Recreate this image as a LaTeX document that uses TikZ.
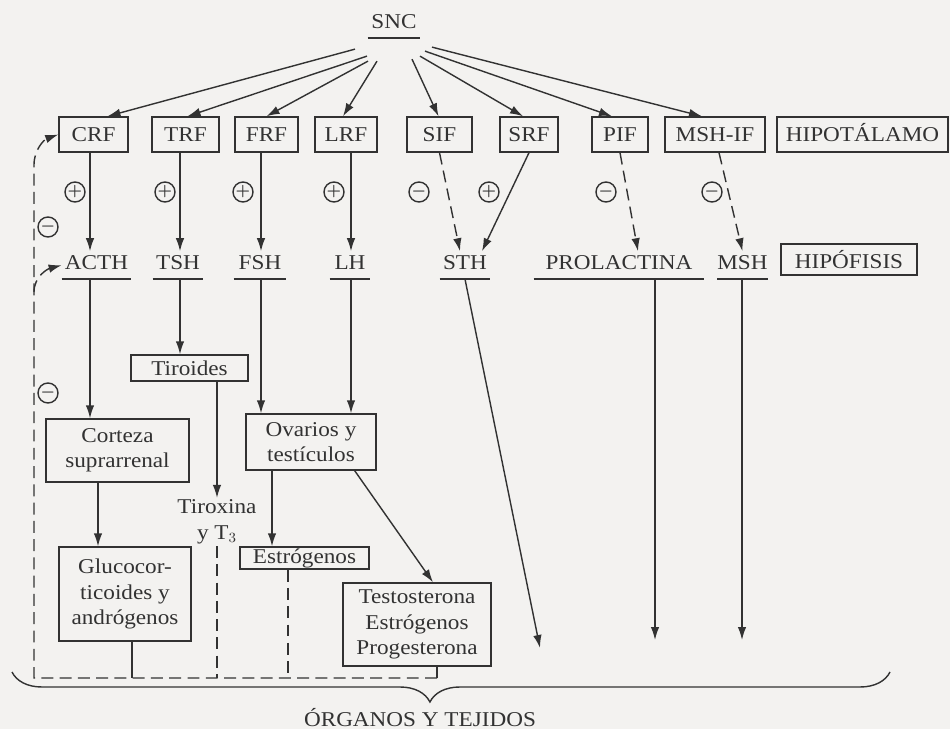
\documentclass[tikz,border=0pt]{standalone}
\usepackage{fontspec}
\setmainfont{Liberation Serif}[FakeStretch=1.1]
\usepackage{xcolor}
\usetikzlibrary{arrows.meta,positioning,calc,decorations.pathreplacing}
\definecolor{papel}{RGB}{243,242,240}
\definecolor{tinta}{RGB}{50,50,50}

\begin{document}
\begin{tikzpicture}[
    x=0.02cm, y=-0.02cm,
    font=\fontsize{12}{14.5}\selectfont,
    every node/.style={text=tinta},
    >={Latex[length=0.26cm,width=0.17cm]},
    caja/.style={rectangle, draw=tinta, line width=0.8pt, inner sep=2pt, align=center},
    factor/.style={caja, minimum height=0.70cm, text height=8.5pt, text depth=0pt},
    hormona/.style={minimum width=#1, inner xsep=0pt, inner ysep=2pt, text height=8.5pt, text depth=3pt, anchor=base},
    signo/.style={circle, draw=tinta, line width=0.8pt, minimum size=0.40cm, inner sep=0pt, font=\small\boldmath},
    linea/.style={draw=tinta, line width=0.8pt},
    flecha/.style={linea, ->},
    retro/.style={linea, dash pattern=on 6.8pt off 3.6pt}
]
\fill[papel] (0,0) rectangle (950,729);
\useasboundingbox (0,0) rectangle (950,729);

\node[hormona=1.04cm] (snc) at (394,29) {SNC};

\node[factor, minimum width=1.38cm] (crf) at (93.5,134.5) {CRF};
\node[factor, minimum width=1.34cm] (trf) at (185.5,134.5) {TRF};
\node[factor, minimum width=1.26cm] (frf) at (266.5,134.5) {FRF};
\node[factor, minimum width=1.24cm] (lrf) at (346,134.5) {LRF};
\node[factor, minimum width=1.30cm] (sif) at (439.5,134.5) {SIF};
\node[factor, minimum width=1.16cm] (srf) at (529,134.5) {SRF};
\node[factor, minimum width=1.12cm] (pif) at (620,134.5) {PIF};
\node[factor, minimum width=2.00cm] (mshif) at (715,134.5) {MSH-IF};
\node[factor, minimum width=3.42cm] (hipot) at (862.5,134.5) {HIPOTÁLAMO};

\node[hormona=1.38cm] (acth) at (96.5,270) {ACTH};
\node[hormona=1.00cm] (tsh) at (178,270) {TSH};
\node[hormona=1.04cm] (fsh) at (260,270) {FSH};
\node[hormona=0.80cm] (lh) at (350,270) {LH};
\node[hormona=1.00cm] (sth) at (465,270) {STH};
\node[hormona=3.40cm] (prol) at (619,270) {PROLACTINA};
\node[hormona=0.90cm] (msh) at (742.5,270) {MSH};
\node[caja, minimum width=2.72cm, minimum height=0.62cm] (hipof) at (849,259.5) {HIPÓFISIS};

\node[signo] (mas1) at (75,192) {$+$};
\node[signo] (mas2) at (165,192) {$+$};
\node[signo] (mas3) at (243,192) {$+$};
\node[signo] (mas4) at (334,192) {$+$};
\node[signo] (menos1) at (419,192) {$-$};
\node[signo] (mas5) at (489,192) {$+$};
\node[signo] (menos2) at (606,192) {$-$};
\node[signo] (menos3) at (712,192) {$-$};
\node[signo] (menos4) at (48,227) {$-$};
\node[signo] (menos5) at (48,393) {$-$};

\node[caja, minimum width=2.34cm, minimum height=0.52cm] (tiroides) at (189.5,368) {Tiroides};
\node[caja, minimum width=2.86cm, minimum height=1.26cm] (corteza) at (117.5,450.5) {Corteza\\suprarrenal};
\node[caja, minimum width=2.64cm, minimum height=1.88cm] (gluco) at (125,594) {Glucocor-\\ticoides y\\andrógenos};
\node[caja, minimum width=2.60cm, minimum height=1.12cm] (ovarios) at (311,442) {Ovarios y\\testículos};
\node[caja, minimum width=2.58cm, minimum height=0.44cm, inner sep=0pt] (estrog) at (304.5,558) {Estrógenos};
\node[caja, minimum width=2.96cm, minimum height=1.66cm] (testost) at (417,624.5) {Testosterona\\Estrógenos\\Progesterona};
\node[align=center, inner sep=1pt] (tirox) at (217,522) {Tiroxina\\y T$_3$};

\node (organos) at (420,718) {ÓRGANOS Y TEJIDOS};

\coordinate (fbl) at (34,678);
\coordinate (fbr) at (437,678);
\coordinate (fbcrf) at (34,165);
\coordinate (fbacth) at (34,292);
\coordinate (sthend) at (540,648);
\coordinate (prolend) at (655,640);
\coordinate (mshend) at (742,640);
\coordinate (llavei) at (12,672);
\coordinate (llaved) at (890,672);

\draw[linea] (snc.south west) -- (snc.south east);
\foreach \h in {acth,tsh,fsh,lh,sth,prol,msh}
    \draw[linea] (\h.south west) -- (\h.south east);

\draw[flecha] ($(snc.south)+(-39,11)$) -- ($(crf.north)+(14,0)$);
\draw[flecha] ($(snc.south)+(-27,18)$) -- ($(trf.north)+(2,0)$);
\draw[flecha] ($(snc.south)+(-26,23)$) -- (frf.north);
\draw[flecha] ($(snc.south)+(-17,23)$) -- ($(lrf.north)+(-3,0)$);
\draw[flecha] ($(snc.south)+(18,21)$) -- ($(sif.north)+(-1,0)$);
\draw[flecha] ($(snc.south)+(26,18)$) -- ($(srf.north)+(-6,0)$);
\draw[flecha] ($(snc.south)+(31,13)$) -- ($(pif.north)+(-8,0)$);
\draw[flecha] ($(snc.south)+(38,9)$) -- ($(mshif.north)+(-13,0)$);

\draw[flecha] ([xshift=-0.07cm]crf.south) -- ([xshift=-0.07cm]crf.south |- acth.north);
\draw[flecha] ([xshift=-0.11cm]trf.south) -- ([xshift=-0.11cm]trf.south |- tsh.north);
\draw[flecha] ([xshift=-0.11cm]frf.south) -- ([xshift=-0.11cm]frf.south |- fsh.north);
\draw[flecha] ([xshift=0.10cm]lrf.south) -- ([xshift=0.10cm]lrf.south |- lh.north);
\draw[retro, ->] (sif.south) -- ([xshift=-0.10cm]sth.north);
\draw[flecha] (srf.south) -- ([xshift=0.34cm]sth.north);
\draw[retro, ->] (pif.south) -- ([xshift=0.38cm]prol.north);
\draw[retro, ->] ([xshift=0.08cm]mshif.south) -- (msh.north);

\draw[flecha] ([xshift=-0.13cm]acth.south) -- ([xshift=-0.13cm]acth.south |- corteza.north);
\draw[flecha] ([xshift=0.04cm]tsh.south) -- ([xshift=0.04cm]tsh.south |- tiroides.north);
\draw[flecha] ([xshift=0.02cm]fsh.south) -- ([xshift=0.02cm]fsh.south |- ovarios.north);
\draw[flecha] ([xshift=0.02cm]lh.south) -- ([xshift=0.02cm]lh.south |- ovarios.north);
\draw[flecha] (sth.south) -- (sthend);
\draw[flecha] (prol.south -| prolend) -- (prolend);
\draw[flecha] (msh.south -| mshend) -- (mshend);

\draw[flecha] (tiroides.south -| tirox.north) -- (tirox.north);
\draw[flecha] ([xshift=-0.39cm]corteza.south) -- ([xshift=-0.39cm]corteza.south |- gluco.north);
\draw[flecha] ([xshift=-0.78cm]ovarios.south) -- ([xshift=-0.78cm]ovarios.south |- estrog.north);
\draw[flecha] ([xshift=-0.44cm]ovarios.south east) -- ([xshift=0.32cm]testost.north);

\draw[retro, ->] (fbr) -- (fbl) -- (fbcrf) to[out=90, in=200] (crf.west);
\draw[retro, ->] (fbacth) to[out=90, in=195] (acth.west);
\draw[linea] ([xshift=0.14cm]gluco.south) -- ([xshift=0.14cm]gluco.south |- fbl);
\draw[retro] (tirox.south) -- (tirox.south |- fbl);
\draw[retro] ([xshift=-0.33cm]estrog.south) -- ([xshift=-0.33cm]estrog.south |- fbl);
\draw[linea] (testost.south -| fbr) -- (fbr);

\draw[linea, decorate, decoration={brace, mirror, amplitude=0.6cm, aspect=0.476}] (llavei) -- (llaved);
\end{tikzpicture}
\end{document}
